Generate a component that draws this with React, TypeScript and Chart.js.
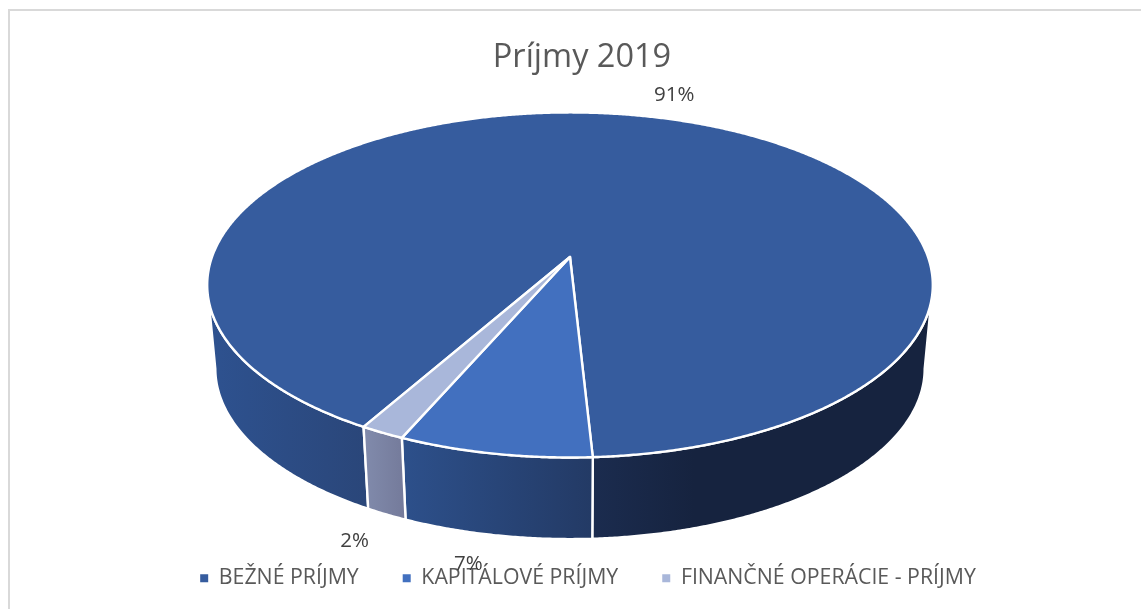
import React, { useEffect, useRef } from "react";
import { Chart, registerables } from "chart.js";

Chart.register(...registerables);

const categories = ["BEŽNÉ PRÍJMY", "KAPITÁLOVÉ PRÍJMY", "FINANČNÉ OPERÁCIE - PRÍJMY"];
const values = [90.9, 7.4, 1.7];
const topColors = ["#365C9E", "#4270BF", "#A9B7DA"];
const wallLeftStops = [
  ["#2E5290", "#2A4679"],
  ["#2D508B", "#233A65"],
  ["#818BAC", "#747A9A"],
];
const wallRightStops = ["#1B2C4F", "#16233F"];
const labelOffsets = [
  [33, -21],
  [-27.5, 29],
  [-32, 27],
];

const FONT = "'Open Sans', sans-serif";
const GREY = "#595959";

const P = -0.162;
const topDisc = { x: 570, y: 257, a: 358, b: 168 };
const baseDisc = { x: 570, y: 341, a: 350, b: 166 };

function project(d: typeof topDisc, angle: number) {
  const u = Math.cos(angle);
  const v = Math.sin(angle);
  const w = 1 + P * v;
  return { x: d.x + (d.a * u) / w, y: d.y + (d.b * v) / w };
}

function rim(d: typeof topDisc, from: number, to: number) {
  const pts = [];
  const n = Math.max(2, Math.ceil(Math.abs(to - from) / 0.006));
  for (let i = 0; i <= n; i++) pts.push(project(d, from + ((to - from) * i) / n));
  return pts;
}

const FRONT_START = 0.164;
const FRONT_END = Math.PI - 0.164;

function frontRanges(start: number, end: number) {
  const out: [number, number][] = [];
  for (let k = -2; k <= 2; k++) {
    const a = FRONT_START + k * 2 * Math.PI;
    const b = FRONT_END + k * 2 * Math.PI;
    const s = Math.max(start, a);
    const e = Math.min(end, b);
    if (e > s) out.push([s, e]);
  }
  return out;
}

const pie3d = {
  id: "pie3d",
  afterLayout(chart: any) {
    chart.legend.left += 6;
    chart.legend.right += 6;
    chart.legend.top -= 10;
    chart.legend.bottom -= 10;
  },
  beforeDatasetDraw(chart: any) {
    const ctx = chart.ctx as CanvasRenderingContext2D;
    const arcs = chart.getDatasetMeta(0).data;
    ctx.save();
    ctx.lineJoin = "round";
    ctx.strokeStyle = "#FFFFFF";
    ctx.lineWidth = 2.4;
    arcs.forEach((arc: any, i: number) => {
      frontRanges(arc.startAngle, arc.endAngle).forEach(([s, e]) => {
        const top = rim(topDisc, s, e);
        const base = rim(baseDisc, e, s);
        const xs = top.concat(base).map((p) => p.x);
        const g = ctx.createLinearGradient(Math.min(...xs), 0, Math.max(...xs), 0);
        if (i === 0 && top[0].x > 570) {
          g.addColorStop(0, wallRightStops[0]);
          g.addColorStop(0.3, wallRightStops[1]);
          g.addColorStop(1, wallRightStops[1]);
        } else {
          g.addColorStop(0, wallLeftStops[i][0]);
          g.addColorStop(1, wallLeftStops[i][1]);
        }
        ctx.beginPath();
        top.concat(base).forEach((p, k) => (k ? ctx.lineTo(p.x, p.y) : ctx.moveTo(p.x, p.y)));
        ctx.closePath();
        ctx.fillStyle = g;
        ctx.fill();
        ctx.stroke();
      });
    });
    arcs.forEach((arc: any, i: number) => {
      const edge = rim(topDisc, arc.startAngle, arc.endAngle);
      ctx.beginPath();
      ctx.moveTo(topDisc.x, topDisc.y);
      edge.forEach((p) => ctx.lineTo(p.x, p.y));
      ctx.closePath();
      ctx.fillStyle = topColors[i];
      ctx.fill();
      ctx.stroke();
    });
    ctx.restore();
    return false;
  },
  afterDatasetsDraw(chart: any) {
    const ctx = chart.ctx as CanvasRenderingContext2D;
    const arcs = chart.getDatasetMeta(0).data;
    const total = values.reduce((a, b) => a + b, 0);
    ctx.save();
    ctx.font = `20.5px ${FONT}`;
    ctx.fillStyle = "#404040";
    ctx.textAlign = "center";
    ctx.textBaseline = "middle";
    arcs.forEach((arc: any, i: number) => {
      const mid = (arc.startAngle + arc.endAngle) / 2;
      const d = i === 0 ? topDisc : baseDisc;
      const p = project(d, mid);
      ctx.fillText(
        `${Math.round((values[i] / total) * 100)}%`,
        p.x + labelOffsets[i][0],
        p.y + labelOffsets[i][1]
      );
    });
    ctx.restore();
  },
};

export default function App() {
  const ref = useRef<HTMLCanvasElement>(null);
  useEffect(() => {
    document.body.style.margin = "0";
    const chart = new Chart(ref.current as HTMLCanvasElement, {
      type: "pie",
      data: {
        labels: categories,
        datasets: [{ data: values, backgroundColor: topColors, borderWidth: 0 }],
      },
      options: {
        responsive: false,
        animation: false,
        rotation: 209.7,
        layout: { padding: { left: 23 } },
        plugins: {
          title: {
            display: true,
            text: "Príjmy 2019",
            color: GREY,
            font: { family: FONT, size: 32.5, weight: "normal" },
            padding: { top: 38, bottom: 0 },
          },
          legend: {
            position: "bottom",
            labels: {
              color: GREY,
              font: { family: FONT, size: 21.3 },
              boxWidth: 8,
              boxHeight: 8,
              padding: 44,
            },
          },
          tooltip: { enabled: false },
        },
      },
      plugins: [pie3d],
    } as any);
    return () => chart.destroy();
  }, []);
  return (
    <div style={{ position: "relative", width: 1141, height: 609, overflow: "hidden", background: "#fff" }}>
      <div
        style={{
          position: "absolute",
          left: 8,
          top: 9,
          width: 1160,
          height: 640,
          borderLeft: "2px solid #D9D9D9",
          borderTop: "2px solid #D9D9D9",
        }}
      />
      <canvas ref={ref} width={1141} height={609} style={{ position: "absolute", left: 0, top: 0, display: "block" }} />
    </div>
  );
}
